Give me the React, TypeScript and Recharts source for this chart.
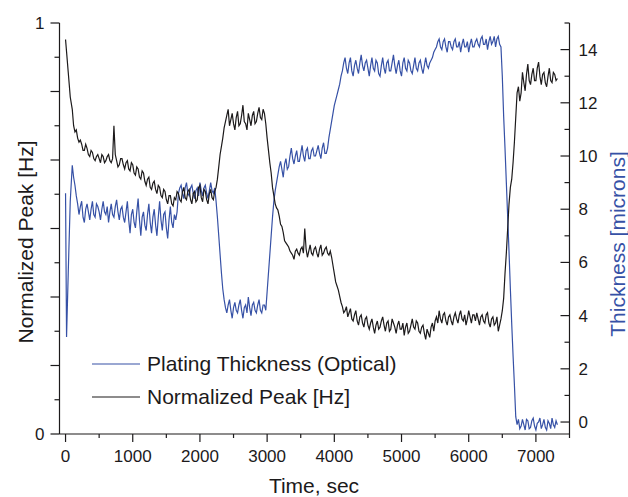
import React from "react";
import { Legend, Line, LineChart, XAxis, YAxis } from "recharts";

// sample times (s)
const timeSec = [
  0, 15, 40, 70, 100,
  120, 140, 160, 180, 200, 220, 240, 260, 280, 300, 320, 340, 360, 380, 400, 420, 440, 460, 480, 500,
  520, 540, 560, 580, 600, 620, 640, 660, 680, 700, 720, 740, 760, 780, 800, 820, 840, 860, 880, 900,
  920, 940, 960, 980, 1000, 1020, 1040, 1060, 1080, 1100, 1120, 1140, 1160, 1180, 1200, 1220, 1240, 1260, 1280, 1300,
  1320, 1340, 1360, 1380, 1400, 1420, 1440, 1460, 1480, 1500, 1520, 1540, 1560, 1580, 1600, 1620, 1640, 1660, 1680, 1700,
  1720, 1740, 1760, 1780, 1800, 1820, 1840, 1860, 1880, 1900, 1920, 1940, 1960, 1980, 2000, 2020, 2040, 2060, 2080, 2100,
  2120, 2140, 2160, 2180, 2200, 2220, 2240, 2260, 2280, 2300, 2320, 2340, 2360, 2380, 2400, 2420, 2440, 2460, 2480, 2500,
  2520, 2540, 2560, 2580, 2600, 2620, 2640, 2660, 2680, 2700, 2720, 2740, 2760, 2780, 2800, 2820, 2840, 2860, 2880, 2900,
  2920, 2940, 2960, 2980, 3000, 3020, 3040, 3060, 3080, 3100, 3120, 3140, 3160, 3180, 3200, 3220, 3240, 3260, 3280, 3300,
  3320, 3340, 3360, 3380, 3400, 3420, 3440, 3460, 3480, 3500, 3520, 3540, 3560, 3580, 3600, 3620, 3640, 3660, 3680, 3700,
  3720, 3740, 3760, 3780, 3800, 3820, 3840, 3860, 3880, 3900, 3920, 3940, 3960, 3980, 4000, 4020, 4040, 4060, 4080, 4100,
  4120, 4140, 4160, 4180, 4200, 4220, 4240, 4260, 4280, 4300, 4320, 4340, 4360, 4380, 4400, 4420, 4440, 4460, 4480, 4500,
  4520, 4540, 4560, 4580, 4600, 4620, 4640, 4660, 4680, 4700, 4720, 4740, 4760, 4780, 4800, 4820, 4840, 4860, 4880, 4900,
  4920, 4940, 4960, 4980, 5000, 5020, 5040, 5060, 5080, 5100, 5120, 5140, 5160, 5180, 5200, 5220, 5240, 5260, 5280, 5300,
  5320, 5340, 5360, 5380, 5400, 5420, 5440, 5460, 5480, 5500, 5520, 5540, 5560, 5580, 5600, 5620, 5640, 5660, 5680, 5700,
  5720, 5740, 5760, 5780, 5800, 5820, 5840, 5860, 5880, 5900, 5920, 5940, 5960, 5980, 6000, 6020, 6040, 6060, 6080, 6100,
  6120, 6140, 6160, 6180, 6200, 6220, 6240, 6260, 6280, 6300, 6320, 6340, 6360, 6380, 6400, 6420, 6440, 6460, 6480, 6500,
  6520, 6540, 6560, 6580, 6600, 6620, 6640, 6660, 6680, 6700, 6720, 6740, 6760, 6780, 6800, 6820, 6840, 6860, 6880, 6900,
  6920, 6940, 6960, 6980, 7000, 7020, 7040, 7060, 7080, 7100, 7120, 7140, 7160, 7180, 7200, 7220, 7240, 7260, 7280, 7300,
  7320,
];

// left axis, normalized peak
const normalizedPeak = [
  0.96, 0.93, 0.88, 0.82, 0.79,
  0.75, 0.735, 0.74, 0.72, 0.71, 0.715, 0.705, 0.69, 0.69, 0.705, 0.695, 0.68, 0.675, 0.69, 0.685, 0.67, 0.665, 0.675, 0.68, 0.67,
  0.66, 0.68, 0.675, 0.66, 0.665, 0.675, 0.68, 0.665, 0.66, 0.67, 0.75, 0.68, 0.665, 0.65, 0.655, 0.67, 0.67, 0.655, 0.645, 0.66,
  0.665, 0.645, 0.64, 0.66, 0.655, 0.635, 0.63, 0.65, 0.645, 0.625, 0.62, 0.64, 0.635, 0.615, 0.605, 0.62, 0.625, 0.6, 0.595, 0.61,
  0.615, 0.595, 0.585, 0.605, 0.6, 0.58, 0.575, 0.595, 0.59, 0.57, 0.56, 0.58, 0.58, 0.56, 0.555, 0.575, 0.57, 0.59, 0.585, 0.57,
  0.565, 0.59, 0.6, 0.575, 0.57, 0.59, 0.595, 0.57, 0.56, 0.585, 0.59, 0.565, 0.57, 0.6, 0.605, 0.575, 0.565, 0.595, 0.59, 0.57,
  0.56, 0.585, 0.595, 0.575, 0.57, 0.59, 0.6, 0.62, 0.65, 0.68, 0.7, 0.72, 0.745, 0.76, 0.775, 0.79, 0.75, 0.765, 0.78, 0.755,
  0.74, 0.77, 0.785, 0.75, 0.755, 0.775, 0.8, 0.76, 0.755, 0.74, 0.78, 0.765, 0.75, 0.775, 0.785, 0.755, 0.76, 0.78, 0.795, 0.77,
  0.765, 0.79, 0.78, 0.755, 0.72, 0.69, 0.66, 0.635, 0.6, 0.58, 0.56, 0.55, 0.545, 0.53, 0.51, 0.505, 0.49, 0.47, 0.465, 0.46,
  0.455, 0.445, 0.44, 0.435, 0.425, 0.445, 0.45, 0.44, 0.435, 0.45, 0.455, 0.44, 0.5, 0.45, 0.43, 0.445, 0.46, 0.44, 0.435, 0.45,
  0.455, 0.44, 0.43, 0.45, 0.46, 0.435, 0.44, 0.45, 0.455, 0.44, 0.435, 0.445, 0.43, 0.41, 0.39, 0.37, 0.36, 0.35, 0.335, 0.32,
  0.31, 0.295, 0.3, 0.31, 0.285, 0.295, 0.305, 0.28, 0.275, 0.29, 0.3, 0.275, 0.265, 0.285, 0.29, 0.27, 0.26, 0.28, 0.285, 0.265,
  0.255, 0.27, 0.28, 0.26, 0.245, 0.265, 0.275, 0.255, 0.26, 0.275, 0.285, 0.265, 0.25, 0.27, 0.275, 0.25, 0.255, 0.28, 0.27, 0.26,
  0.245, 0.265, 0.275, 0.255, 0.255, 0.27, 0.24, 0.26, 0.27, 0.245, 0.25, 0.265, 0.28, 0.26, 0.255, 0.275, 0.27, 0.25, 0.245, 0.26,
  0.265, 0.245, 0.23, 0.255, 0.245, 0.235, 0.26, 0.27, 0.25, 0.275, 0.285, 0.27, 0.3, 0.28, 0.27, 0.29, 0.295, 0.275, 0.265, 0.285,
  0.29, 0.275, 0.265, 0.285, 0.295, 0.28, 0.27, 0.29, 0.3, 0.28, 0.275, 0.29, 0.265, 0.28, 0.3, 0.285, 0.27, 0.29, 0.29, 0.275,
  0.295, 0.28, 0.265, 0.285, 0.29, 0.275, 0.27, 0.29, 0.295, 0.27, 0.26, 0.28, 0.285, 0.265, 0.27, 0.285, 0.25, 0.265, 0.28, 0.3,
  0.33, 0.39, 0.44, 0.5, 0.56, 0.6, 0.62, 0.66, 0.71, 0.77, 0.83, 0.845, 0.81, 0.83, 0.88, 0.855, 0.835, 0.875, 0.9, 0.86,
  0.85, 0.875, 0.89, 0.86, 0.86, 0.89, 0.905, 0.87, 0.85, 0.875, 0.88, 0.855, 0.845, 0.87, 0.89, 0.86, 0.855, 0.88, 0.875, 0.86,
  0.865,
];

// right axis, optical thickness in microns
const thicknessMicrons = [
  8.6, 3.2, 5.6, 8.3, 9.65,
  9.2, 8.9, 8.5, 8.2, 7.8, 8.1, 8.3, 7.7, 7.5, 8.0, 8.2, 7.9, 7.6, 8.0, 8.3, 7.8, 7.7, 8.2, 8.1, 7.9,
  7.6, 8.0, 8.3, 7.9, 7.8, 8.1, 7.5, 7.9, 8.2, 7.8, 7.7, 8.1, 8.35, 7.9, 7.6, 8.0, 8.1, 7.7, 7.5, 7.9,
  8.3, 7.6, 7.1, 7.8, 8.0, 7.5, 7.3, 7.9, 8.4, 7.6, 7.0, 7.7, 7.9, 7.4, 7.2, 7.8, 8.2, 7.5, 7.1, 7.7,
  8.0, 7.4, 7.0, 7.7, 8.3, 7.6, 7.2, 7.8, 7.9, 7.3, 6.9, 7.6, 8.1, 7.5, 7.3, 7.8, 7.6, 7.9, 8.6, 8.8,
  8.9, 8.6, 8.4, 8.8, 9.0, 8.6, 8.5, 8.8, 8.9, 8.6, 8.4, 8.7, 8.8, 8.5, 9.0, 8.7, 8.5, 8.8, 8.9, 8.6,
  8.4, 8.7, 9.0, 8.7, 8.6, 8.8, 8.3, 7.7, 7.0, 6.3, 5.6, 5.0, 4.6, 4.3, 4.1, 4.4, 4.6, 4.2, 3.9, 4.3,
  4.5, 4.2, 4.1, 4.4, 4.6, 4.2, 3.9, 4.3, 4.4, 4.1, 4.7, 4.3, 4.0, 4.4, 4.5, 4.2, 4.1, 4.4, 4.6, 4.2,
  4.1, 4.4, 4.4, 4.2, 4.9, 5.6, 6.3, 7.0, 7.7, 8.3, 8.7, 9.0, 9.3, 9.6, 9.8, 9.5, 9.2, 9.7, 9.9, 9.5,
  9.6, 10.0, 10.3, 9.9, 9.7, 10.0, 10.2, 9.8, 9.8, 10.1, 10.4, 10.0, 9.8, 10.2, 10.3, 9.9, 9.9, 10.2, 10.3, 10.0,
  10.0, 10.2, 10.4, 10.1, 9.9, 10.3, 10.5, 10.1, 10.1, 10.3, 10.7, 11.0, 11.3, 11.6, 11.9, 12.1, 12.3, 12.5, 12.7, 13.0,
  13.2, 13.5, 13.7, 13.3, 13.1, 13.5, 13.7, 13.2, 13.0, 13.4, 13.6, 13.3, 13.1, 13.5, 13.8, 13.4, 13.2, 13.5, 13.6, 13.3,
  13.0, 13.4, 13.7, 13.3, 13.2, 13.6, 13.5, 13.1, 13.0, 13.4, 13.7, 13.3, 13.1, 13.5, 13.6, 13.2, 13.2, 13.5, 13.8, 13.4,
  13.1, 13.4, 13.6, 13.2, 13.0, 13.5, 13.7, 13.3, 13.2, 13.6, 13.5, 13.2, 13.1, 13.4, 13.7, 13.3, 13.2, 13.5, 13.6, 13.3,
  13.1, 13.4, 13.7, 13.4, 13.3, 13.5, 13.6, 13.7, 13.9, 14.0, 14.1, 14.3, 14.4, 14.1, 14.0, 14.3, 14.4, 14.1, 13.9, 14.3,
  14.3, 14.1, 14.0, 14.3, 14.4, 14.1, 14.1, 14.3, 13.9, 14.2, 14.4, 14.1, 14.1, 14.3, 13.9, 14.2, 14.4, 14.1, 14.1, 14.3,
  14.4, 14.2, 14.1, 14.4, 14.5, 14.2, 14.2, 14.4, 14.0, 14.3, 14.5, 14.2, 14.3, 14.5, 14.1, 14.4, 14.5, 14.2, 14.1, 13.0,
  11.5, 10.3, 9.0, 7.7, 6.4, 5.0, 3.7, 2.5, 1.4, 0.2, -0.1, 0.1, -0.25, -0.15, 0.1, -0.1, -0.3, 0.1, 0.05, -0.25,
  -0.2, 0.05, 0.15, -0.15, -0.3, -0.05, 0.0, 0.15, -0.25, -0.1, 0.1, -0.2, -0.3, 0.05, -0.05, -0.25, 0.15, -0.1, -0.2, 0.05,
  -0.1,
];

const timeTicks = [0, 500, 1000, 1500, 2000, 2500, 3000, 3500, 4000, 4500, 5000, 5500, 6000, 6500, 7000, 7500];
const peakTicks = [0, 1 / 12, 2 / 12, 3 / 12, 4 / 12, 5 / 12, 6 / 12, 7 / 12, 8 / 12, 9 / 12, 10 / 12, 11 / 12, 1];
const peakLabels = ["0", "", "", "", "", "", "", "", "", "", "", "", "1"];
const thicknessTicks = [0, 1, 2, 3, 4, 5, 6, 7, 8, 9, 10, 11, 12, 13, 14, 15];

const BLUE = "#3651a6";
const INK = "#1c1a1b";
const FONT = "'Liberation Sans', Arial, Helvetica, sans-serif";

const legendItems = [
  { name: "Plating Thickness (Optical)", color: BLUE },
  { name: "Normalized Peak [Hz]", color: INK },
];

const data = timeSec.map((t, i) => ({
  time: t,
  peak: normalizedPeak[i],
  thickness: thicknessMicrons[i],
}));

function TimeTick(props: any) {
  const { x, y, payload } = props;
  const major = payload.value % 1000 === 0;
  return (
    <g>
      <line x1={x} x2={x} y1={y} y2={y + (major ? 8 : 4)} stroke={INK} strokeWidth={1.2} />
      {major && (
        <text x={x} y={y + 28} textAnchor="middle" fontSize={17} fontFamily={FONT} fill={INK}>
          {payload.value}
        </text>
      )}
    </g>
  );
}

function PeakTick(props: any) {
  const { x, y, index } = props;
  const major = index % 2 === 0;
  return (
    <g>
      <line x1={x - (major ? 9 : 5)} x2={x} y1={y} y2={y} stroke={INK} strokeWidth={1.2} />
      <text x={x - 15} y={y + 6} textAnchor="end" fontSize={17} fontFamily={FONT} fill={INK}>
        {peakLabels[index]}
      </text>
    </g>
  );
}

function ThicknessTick(props: any) {
  const { x, y, payload } = props;
  const major = payload.value % 2 === 0;
  return (
    <g>
      <line x1={x - (major ? 9 : 5)} x2={x} y1={y} y2={y} stroke={INK} strokeWidth={1.2} />
      {major && (
        <text x={x + 9} y={y + 6} textAnchor="start" fontSize={17} fontFamily={FONT} fill={INK}>
          {payload.value}
        </text>
      )}
    </g>
  );
}

function TimeTitle() {
  return (
    <text x={314} y={493} textAnchor="middle" fontSize={21} fontFamily={FONT} fill={INK}>
      Time, sec
    </text>
  );
}

function PeakTitle() {
  return (
    <text x={33} y={242} transform="rotate(-90 33 242)" textAnchor="middle" fontSize={21} fontFamily={FONT} fill={INK}>
      Normalized Peak [Hz]
    </text>
  );
}

function ThicknessTitle() {
  return (
    <text x={625} y={244} transform="rotate(-90 625 244)" textAnchor="middle" fontSize={21} fontFamily={FONT} fill={BLUE}>
      Thickness [microns]
    </text>
  );
}

function LegendBox() {
  return (
    <div style={{ fontFamily: FONT }}>
      {legendItems.map((item) => (
        <div key={item.name} style={{ display: "flex", alignItems: "center", height: 33 }}>
          <svg width={48} height={4} style={{ marginRight: 7 }}>
            <line x1={0} x2={48} y1={2} y2={2} stroke={item.color} strokeWidth={1.2} />
          </svg>
          <span style={{ fontSize: 21, color: INK, whiteSpace: "nowrap" }}>{item.name}</span>
        </div>
      ))}
    </div>
  );
}

export default function App() {
  return (
    <div style={{ position: "absolute", left: 0, top: 0, width: 628, height: 497, background: "#fff" }}>
      <LineChart width={628} height={497} data={data} margin={{ top: 23, right: 0, bottom: 0, left: 0 }}>
        <XAxis
          dataKey="time"
          type="number"
          domain={[-90, 7500]}
          ticks={timeTicks}
          interval={0}
          allowDataOverflow
          height={63}
          tickSize={0}
          tickMargin={0}
          tickLine={false}
          axisLine={{ stroke: INK, strokeWidth: 1.2 }}
          tick={<TimeTick />}
          label={<TimeTitle />}
        />
        <YAxis
          yAxisId="left"
          type="number"
          domain={[0, 1]}
          ticks={peakTicks}
          interval={0}
          allowDataOverflow
          width={59.5}
          tickSize={0}
          tickMargin={0}
          tickLine={false}
          axisLine={{ stroke: INK, strokeWidth: 1.2 }}
          tick={<PeakTick />}
          label={<PeakTitle />}
        />
        <YAxis
          yAxisId="right"
          orientation="right"
          type="number"
          domain={[-0.45, 15]}
          ticks={thicknessTicks}
          interval={0}
          allowDataOverflow
          width={58.5}
          tickSize={0}
          tickMargin={0}
          tickLine={false}
          axisLine={{ stroke: INK, strokeWidth: 1.2 }}
          tick={<ThicknessTick />}
          label={<ThicknessTitle />}
        />
        <Legend
          layout="vertical"
          align="center"
          verticalAlign="middle"
          content={<LegendBox />}
          wrapperStyle={{ left: 92, top: 347.5, width: "auto" }}
        />
        <Line
          yAxisId="right"
          dataKey="thickness"
          name="Plating Thickness (Optical)"
          type="linear"
          stroke={BLUE}
          strokeWidth={1.2}
          dot={false}
          isAnimationActive={false}
        />
        <Line
          yAxisId="left"
          dataKey="peak"
          name="Normalized Peak [Hz]"
          type="linear"
          stroke={INK}
          strokeWidth={1.2}
          dot={false}
          isAnimationActive={false}
        />
      </LineChart>
    </div>
  );
}
